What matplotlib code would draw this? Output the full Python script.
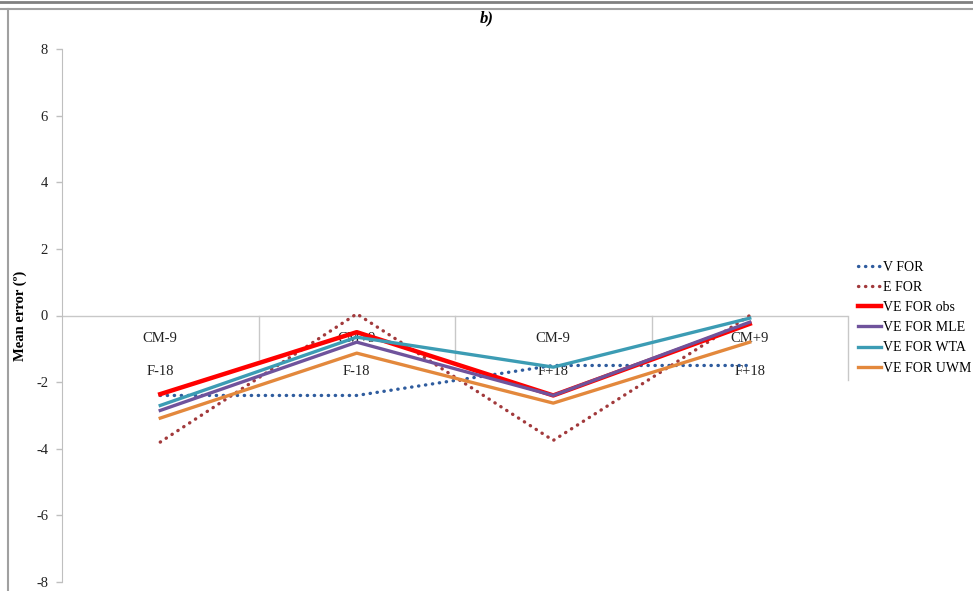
import numpy as np
import matplotlib.pyplot as plt
from matplotlib.lines import Line2D

plt.rcParams['font.family'] = ['Liberation Serif', 'DejaVu Serif']
plt.rcParams['axes.unicode_minus'] = False

inner_labels = ['CM-9', 'CM+9', 'CM-9', 'CM+9']
outer_labels = ['F-18', 'F-18', 'F+18', 'F+18']

v_for = [-2.4, -2.4, -1.5, -1.5]
e_for = [-3.8, 0.05, -3.75, 0.0]
ve_obs = [-2.36, -0.5, -2.4, -0.25]
ve_mle = [-2.85, -0.8, -2.4, -0.2]
ve_wta = [-2.7, -0.65, -1.55, -0.08]
ve_uwm = [-3.08, -1.13, -2.63, -0.8]

dots = (0, (0.1, 2.0))
series = [
    ('V FOR', v_for, '#2F5C9E', dots, 2.4),
    ('E FOR', e_for, '#A23A3C', dots, 2.4),
    ('VE FOR obs', ve_obs, '#FF0000', '-', 3.2),
    ('VE FOR MLE', ve_mle, '#6F539C', '-', 2.4),
    ('VE FOR WTA', ve_wta, '#3C9CB4', '-', 2.4),
    ('VE FOR UWM', ve_uwm, '#E3883C', '-', 2.4),
]

fig = plt.figure(figsize=(9.73, 5.91), dpi=100)
ax = fig.add_axes([62 / 973, 1 - 582 / 591, (848 - 62) / 973, (582 - 49) / 591])

x = np.arange(len(inner_labels)) + 0.5
handles = []
for name, vals, col, ls, lw in series:
    h, = ax.plot(x, vals, color=col, linestyle=ls, linewidth=lw, label=name,
                 dash_capstyle='round')
    handles.append(h)

ax.set_xlim(0, 4)
ax.set_ylim(-8, 8)
ax.set_yticks(np.arange(-8, 9, 2))
ax.set_xticks([])
for s in ['top', 'right', 'bottom']:
    ax.spines[s].set_visible(False)
ax.spines['left'].set_color('#BFBFBF')
ax.tick_params(axis='y', colors='#BFBFBF', length=4, width=1, labelsize=10.5,
               labelcolor='#222222', pad=6)

# category axis at zero with separators
ax.axhline(0, color='#C8C8C8', lw=1, zorder=0)
for b in [1, 2, 3]:
    ax.plot([b, b], [0, -1.3], color='#C8C8C8', lw=1, zorder=0)
ax.plot([4, 4], [0, -1.95], color='#C8C8C8', lw=1, zorder=0, clip_on=False)
for xi, a, b in zip(x, inner_labels, outer_labels):
    ax.text(xi, -0.68, a, ha='center', va='center', fontsize=10.5, color='#222222', zorder=1)
    ax.text(xi, -1.68, b, ha='center', va='center', fontsize=10.5, color='#222222', zorder=1)

ax.set_ylabel('Mean error (º)', fontsize=10.5, fontweight='bold')
ax.yaxis.set_label_coords(-(62 - 27) / 786, 0.5)

fig.text(487 / 973, 1 - 18 / 591, 'b)', ha='center', va='center',
         fontsize=12, fontweight='bold', fontstyle='italic')

fig.legend(handles=handles, loc='upper left', bbox_to_anchor=(852 / 973, 1 - 255 / 591),
           frameon=False, fontsize=10, handlelength=1.7, handletextpad=0.15,
           labelspacing=0.52, borderaxespad=0)

# outer frame
fig.add_artist(Line2D([0, 1], [1 - 1.5 / 591] * 2, color='#808080', lw=2))
fig.add_artist(Line2D([0, 1], [1 - 8.5 / 591] * 2, color='#A0A0A0', lw=1.5))
fig.add_artist(Line2D([7.5 / 973] * 2, [0, 1 - 8.5 / 591], color='#A0A0A0', lw=1.5))

fig.savefig('out.png', dpi=100)
